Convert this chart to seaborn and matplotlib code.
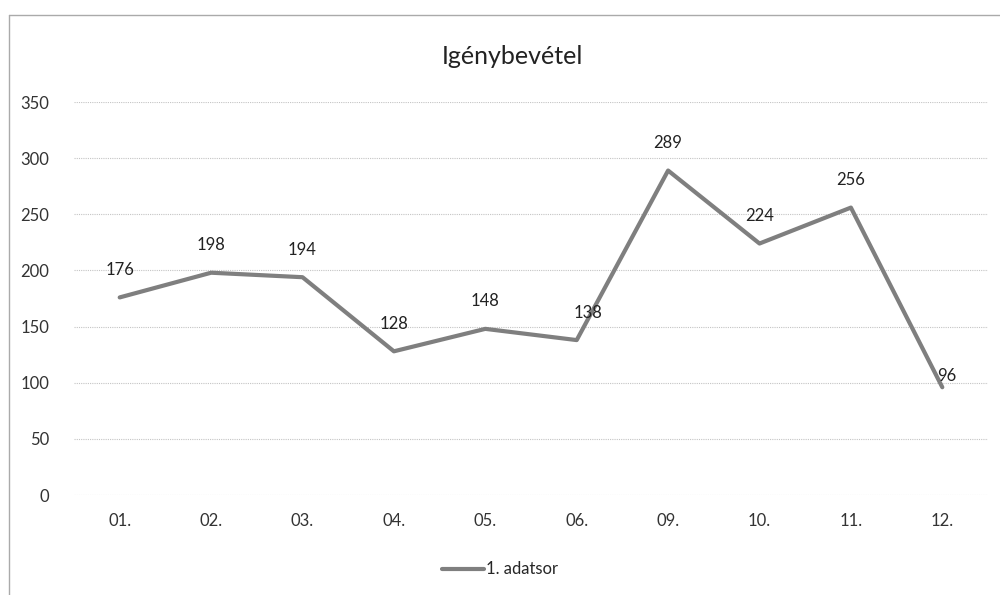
import matplotlib
matplotlib.use("Agg")
import matplotlib.pyplot as plt
import seaborn as sns
import pandas as pd
from matplotlib.lines import Line2D

# adatok
honapok = ["01.", "02.", "03.", "04.", "05.", "06.", "09.", "10.", "11.", "12."]
igenybevetel = [176, 198, 194, 128, 148, 138, 289, 224, 256, 96]
sorozat_nev = "1. adatsor"
cim = "Igénybevétel"
y_ticks = [0, 50, 100, 150, 200, 250, 300, 350]

df = pd.DataFrame({"honap": honapok, "ertek": igenybevetel})
df["x"] = range(len(df))

sns.set_style("white")
plt.rcParams["font.family"] = ["Lato", "DejaVu Sans"]

fig = plt.figure(figsize=(10, 5.95), dpi=100)
ax = fig.add_axes([0.074, 0.168, 0.914, 0.6605])

sns.lineplot(data=df, x="x", y="ertek", ax=ax, color="#7f7f7f", linewidth=3,
             label=sorozat_nev, legend=False)

# adatcimkek
for i, v in enumerate(igenybevetel):
    dx = 0
    dy = 14
    if i == 5:
        dx = 8
    if i == 9:
        dx = 3
        dy = 2
    ax.annotate(str(v), (i, v), xytext=(dx, dy), textcoords="offset points",
                ha="center", va="bottom", fontsize=12, color="#222222")

ax.set_xlim(-0.5, len(honapok) - 0.5)
ax.set_ylim(0, 350)
ax.set_xticks(range(len(honapok)))
ax.set_xticklabels(honapok)
ax.set_yticks(y_ticks)
ax.tick_params(axis="x", labelsize=12, colors="#333333", length=0, pad=13)
ax.tick_params(axis="y", labelsize=12, colors="#333333", length=0, pad=18)
ax.set_xlabel("")
ax.set_ylabel("")
ax.grid(axis="y", color="#c4c4c4", linestyle=(0, (1, 1)), linewidth=0.8)
for s in ax.spines.values():
    s.set_visible(False)
for ln in ax.lines:
    ln.set_clip_on(False)

fig.text(0.512, 0.905, cim, ha="center", va="center", fontsize=18, color="#222222")

fig.legend(handles=[Line2D([0], [0], color="#7f7f7f", linewidth=3)],
           labels=[sorozat_nev], loc="center", bbox_to_anchor=(0.5, 0.043),
           frameon=False, fontsize=12, handlelength=2.5, handletextpad=0.1)

# keret
fig.add_artist(Line2D([0.009, 0.009], [0.0, 0.975], color="#aaaaaa", linewidth=1))
fig.add_artist(Line2D([0.009, 1.0], [0.975, 0.975], color="#aaaaaa", linewidth=1))

fig.savefig("out.png", dpi=100)
